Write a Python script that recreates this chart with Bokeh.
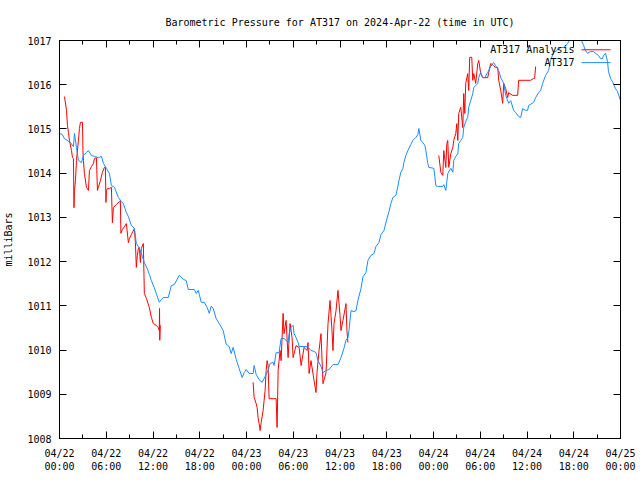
from bokeh.plotting import figure
from bokeh.models import Range1d, FixedTicker, LinearAxis, Label, Arrow, ColumnDataSource
from bokeh.embed import file_html
from bokeh.resources import INLINE

# ---------------- data (hours since 2024-04-22 00:00 UTC, pressure in mb) ----------------
station_hours = [
    0.00, 0.38, 0.64, 1.02, 1.41, 1.79, 1.92, 2.18, 2.43, 2.82, 3.07, 3.46, 3.72, 4.10, 4.48,
    4.99, 5.38, 5.64, 6.02, 6.41, 6.66, 7.05, 7.56, 7.94, 8.20, 8.58, 8.84, 9.22, 9.61, 9.86,
    10.25, 10.63, 10.89, 11.27, 11.53, 11.79, 12.17, 12.42, 12.81, 13.07, 13.32, 13.96, 14.35,
    14.73, 15.37, 15.89, 16.27, 16.53, 17.29, 17.55, 17.81, 17.94, 18.19, 18.58, 18.96, 19.22,
    19.47, 19.73, 20.11, 20.50, 21.01, 21.39, 21.78, 22.03, 22.29, 22.68, 23.06, 23.44, 23.70,
    23.96, 24.34, 24.85, 24.98, 25.24, 25.62, 26.01, 26.39, 26.77, 27.03, 27.42, 27.54, 27.80,
    28.18, 28.44, 28.82, 29.08, 29.34, 29.47, 29.72, 29.98, 30.11, 30.36, 30.62, 30.75, 31.90,
    32.03, 32.28, 32.67, 32.92, 33.18, 33.56, 33.82, 34.21, 34.59, 35.10, 35.74, 36.13, 36.51,
    36.77, 37.02, 37.15, 37.41, 37.79, 38.05, 38.30, 38.69, 38.95, 39.33, 39.59, 39.97, 40.35,
    40.61, 41.00, 41.25, 41.64, 41.89, 42.28, 42.53, 42.79, 43.17, 43.43, 43.56, 43.81, 44.07,
    44.20, 44.45, 44.71, 45.09, 45.35, 45.74, 45.99, 46.12, 46.38, 46.63, 46.89, 47.02, 47.27,
    47.40, 48.04, 48.17, 48.30, 48.55, 49.19, 49.32, 49.58, 49.83, 50.22, 50.48, 50.60, 50.86,
    51.12, 51.24, 51.50, 51.76, 51.88, 52.14, 52.39, 52.52, 52.78, 53.04, 53.17, 53.42, 53.68,
    53.81, 54.06, 54.32, 54.58, 54.96, 55.34, 55.60, 55.73, 55.98, 56.37, 56.63, 57.01, 57.27,
    57.65, 57.91, 58.29, 58.55, 58.93, 59.19, 59.44, 59.83, 60.08, 60.21, 60.85, 61.11, 61.49,
    61.75, 62.01, 62.39, 62.77, 63.03, 63.41, 63.80, 64.31, 64.70, 65.21, 65.59, 65.98, 66.23,
    66.62, 66.87, 67.26, 67.51, 67.77, 68.16, 68.54, 68.80, 69.18, 69.44, 69.69, 69.82, 70.08,
    70.33, 70.46, 70.72, 70.97, 71.36, 71.61, 72.00,
]
station_mb = [
    1014.90, 1014.87, 1014.78, 1014.74, 1014.69, 1014.60, 1014.90, 1014.58, 1014.29, 1014.24,
    1014.40, 1014.47, 1014.51, 1014.40, 1014.38, 1014.35, 1014.38, 1014.22, 1014.11, 1013.99,
    1013.72, 1013.68, 1013.45, 1013.36, 1013.31, 1013.11, 1013.02, 1012.82, 1012.75, 1012.41,
    1012.30, 1012.12, 1011.98, 1011.84, 1011.71, 1011.57, 1011.41, 1011.28, 1011.08, 1011.14,
    1011.19, 1011.19, 1011.46, 1011.48, 1011.69, 1011.60, 1011.57, 1011.37, 1011.37, 1011.28,
    1011.35, 1011.26, 1011.08, 1011.08, 1010.96, 1010.83, 1010.99, 1010.94, 1010.71, 1010.60,
    1010.44, 1010.13, 1010.08, 1009.92, 1010.06, 1009.79, 1009.58, 1009.38, 1009.49, 1009.56,
    1009.47, 1009.47, 1009.65, 1009.45, 1009.33, 1009.27, 1009.40, 1009.54, 1009.70, 1009.72,
    1009.65, 1009.94, 1009.94, 1010.26, 1010.26, 1010.22, 1010.17, 1010.37, 1010.51, 1010.56,
    1010.37, 1010.28, 1010.17, 1010.08, 1010.08, 1010.04, 1009.99, 1009.97, 1009.94, 1009.76,
    1009.63, 1009.49, 1009.54, 1009.56, 1009.67, 1009.67, 1009.83, 1010.04, 1010.22, 1010.28,
    1010.44, 1010.89, 1010.87, 1010.89, 1011.12, 1011.39, 1011.66, 1011.75, 1012.03, 1012.14,
    1012.18, 1012.34, 1012.43, 1012.61, 1012.70, 1012.88, 1013.13, 1013.31, 1013.45, 1013.50,
    1013.70, 1013.83, 1014.02, 1014.11, 1014.24, 1014.40, 1014.51, 1014.65, 1014.74, 1014.81,
    1014.87, 1015.01, 1014.74, 1014.69, 1014.63, 1014.51, 1014.22, 1014.13, 1014.11, 1013.92,
    1013.72, 1013.70, 1013.70, 1013.74, 1013.61, 1013.99, 1014.11, 1014.02, 1014.29, 1014.38,
    1014.44, 1014.67, 1014.74, 1014.81, 1015.03, 1015.17, 1015.26, 1015.49, 1015.64, 1015.80,
    1015.94, 1015.98, 1016.03, 1016.16, 1016.28, 1016.16, 1016.16, 1016.28, 1016.41, 1016.48,
    1016.50, 1016.43, 1016.32, 1016.16, 1016.03, 1015.76, 1015.58, 1015.64, 1015.42, 1015.37,
    1015.28, 1015.26, 1015.46, 1015.42, 1015.42, 1015.53, 1015.60, 1015.71, 1015.82, 1015.87,
    1016.03, 1016.21, 1016.32, 1016.55, 1016.73, 1016.77, 1016.84, 1016.84, 1016.93, 1017.05,
    1017.09, 1017.14, 1017.11, 1017.05, 1016.89, 1016.77, 1016.71, 1016.75, 1016.75, 1016.71,
    1016.66, 1016.59, 1016.59, 1016.66, 1016.71, 1016.53, 1016.30, 1016.14, 1016.07, 1015.91,
    1015.85, 1015.64,
]

nan = float("nan")
analysis_hours = [
    0.64, 0.90, 1.02, 1.15, 1.28, 1.54, 1.67, 1.79, 1.86, 1.92, 2.05, 2.18, 2.43, 2.56, 2.69,
    2.95, 3.01, 3.07, 3.20, 3.46, 3.72, 3.84, 4.10, 4.36, 4.48, 4.74, 4.87, 4.99, 5.25, 5.51,
    5.76, 5.89, 5.96, 6.02, 6.15, 6.41, 6.66, 6.79, 6.92, 7.30, 7.69, 7.81, 7.88, 8.07, 8.33,
    8.58, 8.84, 8.97, 9.22, 9.61, 9.74, 9.86, 9.99, 10.12, 10.25, 10.38, 10.50, 10.76, 10.89,
    11.15, 11.53, 11.79, 12.04, 12.42, 12.68, 12.81, 12.84, 12.87, 12.94,
    nan,
    24.85, 24.98, 25.24, 25.36, 25.49, 25.62, 25.75, 25.88, 26.13, 26.26, 26.39, 26.52, 26.65,
    26.77, 26.90, 27.42, 27.80, 27.93, 28.06, 28.31, 28.44, 28.70, 28.82, 29.08, 29.34, 29.59,
    29.85, 29.98, 30.36, 30.75, 31.01, 31.39, 31.77, 31.90, 32.03, 32.28, 32.67, 32.92, 33.05,
    33.31, 33.56, 33.82, 34.21, 34.46, 34.72, 34.97, 35.10, 35.23, 35.49, 35.74, 36.00, 36.13,
    36.38, 36.77, 36.89, 37.02,
    nan,
    48.68, 48.94, 49.19, 49.32, 49.58, 49.71, 49.83, 49.96, 50.22, 50.48, 50.60, 50.86, 50.99,
    51.12, 51.24, 51.50, 51.76, 51.88, 52.01, 52.14, 52.39, 52.52, 52.65, 52.91, 53.04, 53.17,
    53.42, 53.68, 53.81, 54.06, 54.32, 54.96, 55.09, 55.34, 55.73, 55.98, 56.24, 56.37, 56.63,
    56.88, 57.01, 57.27, 57.52, 57.65, 58.16, 58.80, 58.93, 60.46, 60.85, 60.98, 61.11,
]
analysis_mb = [
    1015.73, 1015.42, 1015.08, 1014.92, 1014.74, 1014.51, 1014.35, 1014.33, 1013.22, 1013.61,
    1013.83, 1014.29, 1014.74, 1015.01, 1015.15, 1015.15, 1014.51, 1014.29, 1013.99, 1013.68,
    1013.61, 1014.06, 1014.15, 1014.22, 1014.33, 1014.35, 1013.61, 1013.68, 1013.83, 1014.02,
    1014.13, 1014.13, 1013.34, 1013.61, 1013.65, 1013.65, 1013.68, 1012.88, 1013.22, 1013.29,
    1013.36, 1013.38, 1012.64, 1012.73, 1012.79, 1012.86, 1012.43, 1012.52, 1012.61, 1012.75,
    1012.43, 1011.87, 1012.14, 1012.30, 1012.32, 1011.98, 1012.30, 1012.41, 1011.28, 1011.17,
    1010.96, 1010.74, 1010.60, 1010.56, 1010.51, 1010.44, 1010.94, 1010.22, 1010.56,
    nan,
    1009.27, 1008.93, 1008.79, 1008.70, 1008.47, 1008.34, 1008.18, 1008.36, 1008.63, 1008.86,
    1009.09, 1009.54, 1009.76, 1009.65, 1008.90, 1008.90, 1008.90, 1008.25, 1009.54, 1009.99,
    1009.76, 1010.83, 1010.37, 1010.67, 1009.83, 1010.60, 1010.28, 1009.83, 1010.10, 1010.06,
    1009.65, 1010.06, 1009.99, 1010.17, 1009.47, 1009.76, 1009.31, 1009.04, 1009.49, 1009.99,
    1010.37, 1009.24, 1009.49, 1010.60, 1011.12, 1010.44, 1009.99, 1010.60, 1010.89, 1011.35,
    1010.78, 1010.44, 1010.67, 1011.05, 1010.44, 1010.17,
    nan,
    1014.40, 1014.02, 1013.95, 1014.51, 1014.13, 1014.67, 1014.74, 1014.13, 1014.44, 1014.58,
    1014.74, 1014.90, 1015.12, 1014.74, 1015.35, 1015.49, 1015.03, 1015.80, 1015.35, 1016.03,
    1016.25, 1015.87, 1016.62, 1016.62, 1016.10, 1016.25, 1016.03, 1016.48, 1016.55, 1016.25,
    1016.16, 1016.16, 1016.28, 1016.48, 1016.43, 1016.39, 1016.39, 1016.10, 1015.87, 1015.58,
    1016.03, 1015.91, 1015.71, 1015.82, 1015.76, 1015.76, 1016.10, 1016.10, 1016.14, 1016.14,
    1016.41,
]

x_tick_hours = [0, 6, 12, 18, 24, 30, 36, 42, 48, 54, 60, 66, 72]
x_minor_hours = [3, 9, 15, 21, 27, 33, 39, 45, 51, 57, 63, 69]
x_tick_labels = [
    "04/22\n00:00", "04/22\n06:00", "04/22\n12:00", "04/22\n18:00",
    "04/23\n00:00", "04/23\n06:00", "04/23\n12:00", "04/23\n18:00",
    "04/24\n00:00", "04/24\n06:00", "04/24\n12:00", "04/24\n18:00",
    "04/25\n00:00",
]
y_ticks = [1008, 1009, 1010, 1011, 1012, 1013, 1014, 1015, 1016, 1017]

series_names = ["AT317 Analysis", "AT317"]
series_colors = ["#ff0000", "#1a8cff"]

title_text = "Barometric Pressure for AT317 on 2024-Apr-22 (time in UTC)"
y_label = "milliBars"

# ---------------- figure ----------------
FONT = "DejaVu Sans Mono"
FS = "10px"

p = figure(width=640, height=480, output_backend="svg", toolbar_location=None,
           x_range=Range1d(0, 72), y_range=Range1d(1008, 1017),
           min_border_left=58, min_border_right=20, min_border_top=40, min_border_bottom=42,
           title=title_text)
p.title.text_font = FONT
p.title.text_font_size = FS
p.title.text_font_style = "normal"
p.title.text_color = "black"
p.title.align = "center"
p.title.standoff = 25
p.grid.visible = False
p.outline_line_color = "black"
p.outline_line_width = 1
p.background_fill_color = "white"
p.border_fill_color = "white"

xt = FixedTicker(ticks=x_tick_hours, minor_ticks=x_minor_hours)
yt = FixedTicker(ticks=y_ticks, minor_ticks=[])


def style_axis(ax, ticker, show_labels):
    ax.ticker = ticker
    ax.major_tick_in = 7
    ax.major_tick_out = 0
    ax.minor_tick_in = 4
    ax.minor_tick_out = 0
    ax.major_tick_line_color = "black"
    ax.minor_tick_line_color = "black"
    ax.axis_line_color = "black"
    ax.major_label_text_font = FONT
    if show_labels:
        ax.major_label_text_color = "black"
        ax.major_label_text_font_size = FS
        ax.major_label_standoff = 9
    else:
        # mirror axis: ticks only, no labels drawn
        ax.major_label_text_color = None
        ax.major_label_text_font_size = "0px"
        ax.major_label_standoff = 0


xa = p.xaxis[0]
style_axis(xa, xt, True)
xa.major_label_overrides = {h: lbl for h, lbl in zip(x_tick_hours, x_tick_labels)}
xa.major_label_text_line_height = 1.25

ya = p.yaxis[0]
style_axis(ya, yt, True)
ya.major_label_standoff = 8
ya.axis_label = y_label
ya.axis_label_text_font = FONT
ya.axis_label_text_font_size = FS
ya.axis_label_text_font_style = "normal"
ya.axis_label_text_color = "black"
ya.axis_label_standoff = 10

top_axis = LinearAxis()
style_axis(top_axis, xt, False)
p.add_layout(top_axis, "above")

right_axis = LinearAxis()
style_axis(right_axis, yt, False)
p.add_layout(right_axis, "right")

# series
p.line(x="h", y="mb", source=ColumnDataSource(dict(h=analysis_hours, mb=analysis_mb)),
       line_color=series_colors[0], line_width=1)
p.line(x="h", y="mb", source=ColumnDataSource(dict(h=station_hours, mb=station_mb)),
       line_color=series_colors[1], line_width=1)

# legend (gnuplot style: text then line sample)
legend_y = [1016.79, 1016.50]
for name, color, ly in zip(series_names, series_colors, legend_y):
    p.add_layout(Label(x=66.1, y=ly, text=name, text_align="right", text_baseline="middle",
                       text_font=FONT, text_font_size=FS, text_color="black"))
    p.add_layout(Arrow(end=None, x_start=67.0, y_start=ly, x_end=70.72, y_end=ly,
                       line_color=color, line_width=1))

open("out.html", "w").write(file_html(p, INLINE))
